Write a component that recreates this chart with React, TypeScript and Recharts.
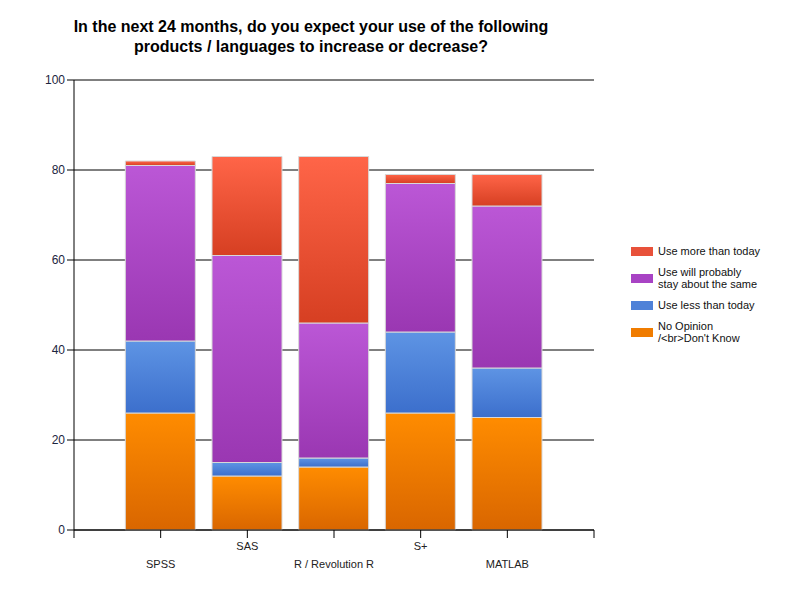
import React from "react";
import { BarChart, Bar, XAxis, YAxis, CartesianGrid } from "recharts";

const categories = ["SPSS", "SAS", "R / Revolution R", "S+", "MATLAB"];
const noOpinion = [26, 12, 14, 26, 25];
const useLess = [16, 3, 2, 18, 11];
const staySame = [39, 46, 30, 33, 36];
const useMore = [1, 22, 37, 2, 7];
const yTicks = [0, 20, 40, 60, 80, 100];

const data = categories.map((name, i) => ({
  x: i + 1,
  name,
  noOpinion: noOpinion[i],
  less: useLess[i],
  same: staySame[i],
  more: useMore[i],
}));

const font = "Arial, 'Liberation Sans', sans-serif";

const series = [
  { key: "more", label: ["Use more than today"], top: "#ff6548", bottom: "#d63f22", swatch: "#e8513a" },
  { key: "same", label: ["Use will probably", "stay about the same"], top: "#bb57d6", bottom: "#9a37b2", swatch: "#a843c4" },
  { key: "less", label: ["Use less than today"], top: "#5e94e4", bottom: "#3c6fcc", swatch: "#4f82d8" },
  { key: "noOpinion", label: ["No Opinion", "/<br>Don't Know"], top: "#ff8c00", bottom: "#d96600", swatch: "#f07c00" },
];

const XTick: React.FC<any> = ({ x, y, payload }) => {
  const i = payload.value - 1;
  if (i < 0 || i >= categories.length) return null;
  const dy = i % 2 === 0 ? 28 : 10;
  return (
    <text x={x} y={y + dy} textAnchor="middle" fontSize={11} fill="#222" fontFamily={font}>
      {categories[i]}
    </text>
  );
};

const LegendBox: React.FC = () => (
  <div style={{ position: "absolute", left: 631, top: 245, fontFamily: font, fontSize: 11, color: "#111" }}>
    {series.map((s) => (
      <div key={s.key} style={{ display: "flex", alignItems: "center", marginBottom: 9 }}>
        <div style={{ width: 22, height: 9, background: s.swatch, marginRight: 5, flexShrink: 0 }} />
        <div style={{ lineHeight: "12px" }}>
          {s.label.map((l) => (
            <div key={l}>{l}</div>
          ))}
        </div>
      </div>
    ))}
  </div>
);

export default function App() {
  return (
    <div style={{ position: "relative", width: 800, height: 600, margin: -8, background: "#fff", fontFamily: font }}>
      <div
        style={{
          position: "absolute",
          top: 17,
          left: 0,
          width: 622,
          textAlign: "center",
          fontWeight: "bold",
          fontSize: 16,
          lineHeight: "20px",
          color: "#000",
        }}
      >
        In the next 24 months, do you expect your use of the following
        <br />
        products / languages to increase or decrease?
      </div>
      <BarChart width={800} height={600} data={data} margin={{ top: 80, right: 206, left: 0, bottom: 20 }}>
        <defs>
          {series.map((s) => (
            <linearGradient key={s.key} id={`grad-${s.key}`} x1="0" y1="0" x2="0" y2="1">
              <stop offset="0%" stopColor={s.top} />
              <stop offset="100%" stopColor={s.bottom} />
            </linearGradient>
          ))}
        </defs>
        <CartesianGrid vertical={false} stroke="#000" strokeWidth={1} />
        <XAxis
          type="number"
          dataKey="x"
          domain={[0, 6]}
          ticks={[0, 1, 2, 3, 4, 5, 6]}
          height={50}
          tickSize={8}
          axisLine={{ stroke: "#000" }}
          tickLine={{ stroke: "#000" }}
          tick={<XTick />}
          interval={0}
        />
        <YAxis
          domain={[0, 100]}
          ticks={yTicks}
          width={74}
          tickSize={7}
          axisLine={{ stroke: "#000" }}
          tickLine={{ stroke: "#000" }}
          tick={{ fontSize: 12, fill: "#1c2540", fontFamily: font }}
        />
        {[...series].reverse().map((s) => (
          <Bar
            key={s.key}
            dataKey={s.key}
            stackId="a"
            barSize={70}
            fill={`url(#grad-${s.key})`}
            stroke="#d8d8d8"
            strokeWidth={1}
            isAnimationActive={false}
          />
        ))}
      </BarChart>
      <LegendBox />
    </div>
  );
}
